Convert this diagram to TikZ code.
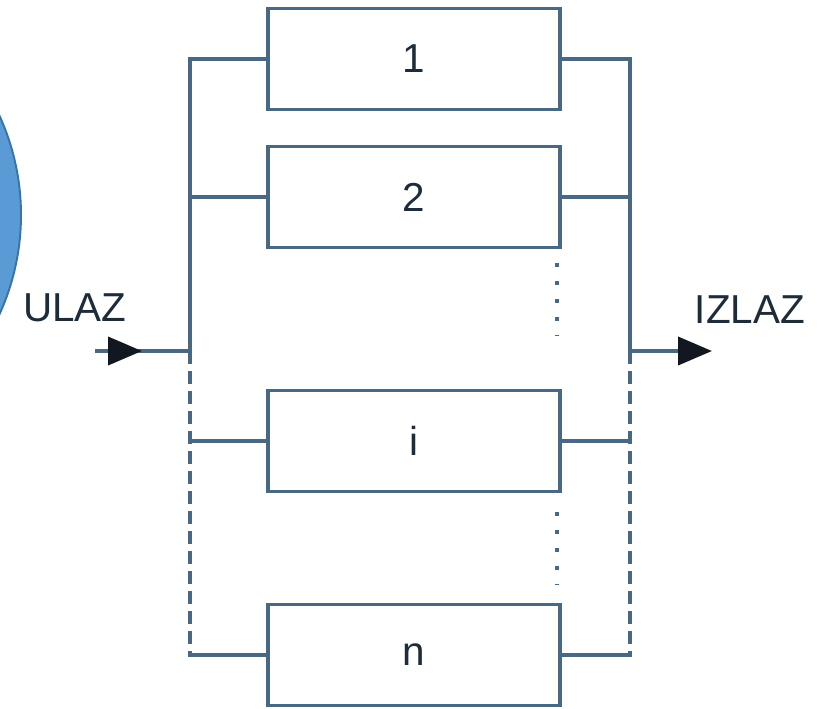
\documentclass[tikz,border=0pt]{standalone}
\usepackage{fontspec}
\setmainfont{Liberation Sans}
\usepackage{tikz}
\usetikzlibrary{positioning, arrows.meta, calc}

\definecolor{wirecol}{RGB}{72,104,132}
\definecolor{textcol}{RGB}{30,44,58}
\definecolor{headcol}{RGB}{17,24,32}
\definecolor{ballfill}{RGB}{91,155,213}
\definecolor{balldraw}{RGB}{65,113,156}

\begin{document}
\begin{tikzpicture}[
    x=0.02cm, y=-0.02cm,
    wire/.style={draw=wirecol, line width=2.2pt},
    branch/.style={wire, line cap=rect},
    busdash/.style={wire, dash pattern=on 7.4pt off 4pt},
    vdots/.style={wire, dash pattern=on 2.3pt off 8pt},
    head/.style={-{Triangle[length=0.68cm, width=0.56cm, color=headcol]}},
    block/.style={rectangle, wire, minimum width=5.84cm, minimum height=2.02cm,
        font=\fontsize{23}{28}\selectfont, text=textcol},
    label/.style={font=\fontsize{23}{28}\selectfont, text=textcol, anchor=base}
]
    \useasboundingbox (0,0) rectangle (828,708);

    % partial blue disc at the left edge
    \fill[ballfill, draw=balldraw, line width=1.1pt] (-218,215) circle[radius=239];

    % the parallel blocks
    \node[block] (b1) at (414,59) {1};
    \node[block] (b2) at (414,197) {2};
    \node[block] (bi) at (414,441) {i};
    \node[block] (bn) at (414,655) {n};

    % bus junctions
    \coordinate (Lin) at (190,351);
    \coordinate (Rout) at (630,351);

    % input and output
    \coordinate (inStart) at (95,351);
    \coordinate (inTip) at (142,351);
    \coordinate (outTip) at (712,351);
    \node[label] (ulaz) at (75,321) {ULAZ};
    \node[label] (izlaz) at (750,323) {IZLAZ};

    % left bus
    \draw[wire] (b1.west) -| (Lin);
    \draw[branch] (b2.west) -- (b2.west -| Lin);
    \draw[busdash] (Lin) -- (Lin |- bn.west);
    \draw[branch] (bi.west) -- (bi.west -| Lin);
    \draw[branch] (bn.west) -- (bn.west -| Lin);

    % right bus
    \draw[wire] (b1.east) -| (Rout);
    \draw[branch] (b2.east) -- (b2.east -| Rout);
    \draw[busdash] (Rout) -- (Rout |- bn.east);
    \draw[branch] (bi.east) -- (bi.east -| Rout);
    \draw[branch] (bn.east) -- (bn.east -| Rout);

    % arrows
    \draw[wire] (inStart) -- (Lin);
    \draw[wire, head] (inStart) -- (inTip);
    \draw[wire, head] (Rout) -- (outTip);

    % dotted gaps
    \coordinate (d1a) at (557,263);
    \coordinate (d1b) at (557,336);
    \coordinate (d2a) at (557,512);
    \coordinate (d2b) at (557,585);
    \draw[vdots] (d1a) -- (d1b);
    \draw[vdots] (d2a) -- (d2b);
\end{tikzpicture}
\end{document}
